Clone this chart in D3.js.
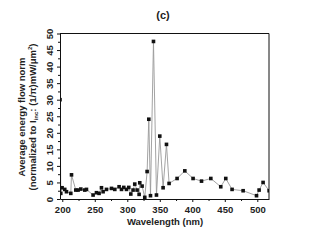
<!DOCTYPE html>
<html>
<head>
<meta charset="utf-8">
<script src="https://cdn.jsdelivr.net/npm/d3@7"></script>
<style>
  body { margin: 0; background: #fff; }
  svg { font-family: "Liberation Sans", Arial, sans-serif; font-weight: bold; }
</style>
</head>
<body>
<svg id="chart" width="327" height="245"></svg>
<script>
// wavelength (nm) and normalized energy flow
var wavelength = [196.5, 197.7, 199.7, 203.8, 206.5, 213.1, 214.2, 220.8, 224.3, 228.5,
  234.6, 237.2, 247.4, 252.6, 256.6, 260.3, 262.8, 268, 275.7, 280.8,
  287.4, 291.1, 294.6, 298.8, 302.3, 305.4, 308.9, 311.5, 315.1, 318.2,
  319.2, 322.8, 326.9, 330.5, 333.1, 335.7, 340.3, 344.9, 350, 355.1,
  360.3, 364.3, 376.6, 388.5, 401.2, 414.2, 428.5, 443.8, 451.5, 461.2,
  478.2, 498.8, 502.8, 508.9, 518.2];
var energy = [30, 1.7, 3.4, 2.9, 2.2, 1.7, 7.3, 2.7, 2.7, 3.0,
  2.7, 2.9, 1.2, 1.9, 1.7, 3.4, 2.2, 2.9, 3.2, 2.9,
  3.7, 2.9, 3.5, 2.9, 3.5, 1.5, 2.7, 4.5, 2.7, 1.4,
  4.9, 3.9, 0.5, 8.3, 24.1, 1.0, 47.6, 1.2, 19.0, 3.4,
  16.5, 4.7, 6.2, 8.5, 6.2, 5.4, 6.2, 3.7, 6.2, 2.9,
  2.5, 1.0, 2.7, 5.0, 2.5];

var xTicks = [200, 250, 300, 350, 400, 450, 500];
var yTicks = [0, 5, 10, 15, 20, 25, 30, 35, 40, 45, 50];

var svg = d3.select("#chart");
var mLeft = 60, mRight = 269, mTop = 33.5, mBottom = 199;

var x = d3.scaleLinear().domain([196.5, 518]).range([mLeft, mRight]);
var y = d3.scaleLinear().domain([0, 50]).range([mBottom, mTop]);

var pts = wavelength.map(function(d, i) { return [d, energy[i]]; });

// clip so the edge points get cut like the original
svg.append("clipPath").attr("id", "clip")
  .append("rect").attr("x", mLeft).attr("y", mTop - 3)
  .attr("width", mRight - mLeft).attr("height", mBottom - mTop + 3);

var g = svg.append("g").attr("clip-path", "url(#clip)");

g.append("path")
  .datum(pts)
  .attr("fill", "none")
  .attr("stroke", "#999")
  .attr("stroke-width", 0.9)
  .attr("d", d3.line().x(function(d) { return x(d[0]); }).y(function(d) { return y(d[1]); }));

g.selectAll("rect.pt")
  .data(pts)
  .enter()
  .append("rect")
  .attr("class", "pt")
  .attr("x", function(d) { return x(d[0]) - 1.8; })
  .attr("y", function(d) { return y(d[1]) - 1.8; })
  .attr("width", 3.6)
  .attr("height", 3.6)
  .attr("fill", "#111");

// minor ticks
var xMinor = d3.range(200, 518, 25).filter(function(v) { return v % 50 !== 0; });
var yMinor = d3.range(2.5, 50, 5);

var xAxis = svg.append("g").attr("transform", "translate(0," + mBottom + ")")
  .call(d3.axisBottom(x).tickValues(xTicks).tickSize(3).tickSizeOuter(0));
svg.append("g").attr("transform", "translate(0," + mBottom + ")")
  .call(d3.axisBottom(x).tickValues(xMinor).tickSize(2).tickFormat("").tickSizeOuter(0))
  .select(".domain").remove();

var yAxis = svg.append("g").attr("transform", "translate(" + mLeft + ",0)")
  .call(d3.axisLeft(y).tickValues(yTicks).tickSize(3).tickSizeOuter(0));
svg.append("g").attr("transform", "translate(" + mLeft + ",0)")
  .call(d3.axisLeft(y).tickValues(yMinor).tickSize(2).tickFormat("").tickSizeOuter(0))
  .select(".domain").remove();

svg.selectAll(".domain, .tick line").attr("stroke", "#111").attr("stroke-width", 1);

xAxis.selectAll("text")
  .attr("font-size", 9.5).attr("font-weight", "bold").attr("font-family", null)
  .attr("fill", "#222").attr("dy", "0.8em");

yAxis.selectAll("text")
  .attr("font-size", 9.5).attr("font-weight", "bold").attr("font-family", null)
  .attr("fill", "#222")
  .attr("x", null).attr("dy", null)
  .attr("text-anchor", "middle")
  .attr("transform", "translate(-7,0) rotate(-90)");

// top and right frame
svg.append("line").attr("x1", mLeft).attr("x2", mRight).attr("y1", mTop).attr("y2", mTop)
  .attr("stroke", "#111").attr("stroke-width", 1);
svg.append("line").attr("x1", mRight).attr("x2", mRight).attr("y1", mTop).attr("y2", mBottom)
  .attr("stroke", "#111").attr("stroke-width", 1);

// titles
svg.append("text").attr("x", 163).attr("y", 19).attr("text-anchor", "middle")
  .attr("font-size", 11).attr("fill", "#222").text("(c)");

svg.append("text").attr("x", 165).attr("y", 225).attr("text-anchor", "middle")
  .attr("font-size", 9.5).attr("fill", "#222").text("Wavelength (nm)");

var yl = svg.append("text").attr("transform", "translate(25,117) rotate(-90)")
  .attr("text-anchor", "middle").attr("font-size", 9.5).attr("fill", "#222");
yl.append("tspan").attr("x", 0).attr("dy", 0).text("Average energy flow norm");

var yl2 = svg.append("text").attr("transform", "translate(36,117) rotate(-90)")
  .attr("text-anchor", "middle").attr("font-size", 9.5).attr("fill", "#222");
yl2.append("tspan").text("(normalized to I");
yl2.append("tspan").attr("font-size", 6).attr("dy", 2).text("inc");
yl2.append("tspan").attr("dy", -2).text(": (1/\u03c0)mW/\u03bcm");
yl2.append("tspan").attr("font-size", 6).attr("dy", -4).text("2");
yl2.append("tspan").attr("dy", 4).text(")");
</script>
</body>
</html>
